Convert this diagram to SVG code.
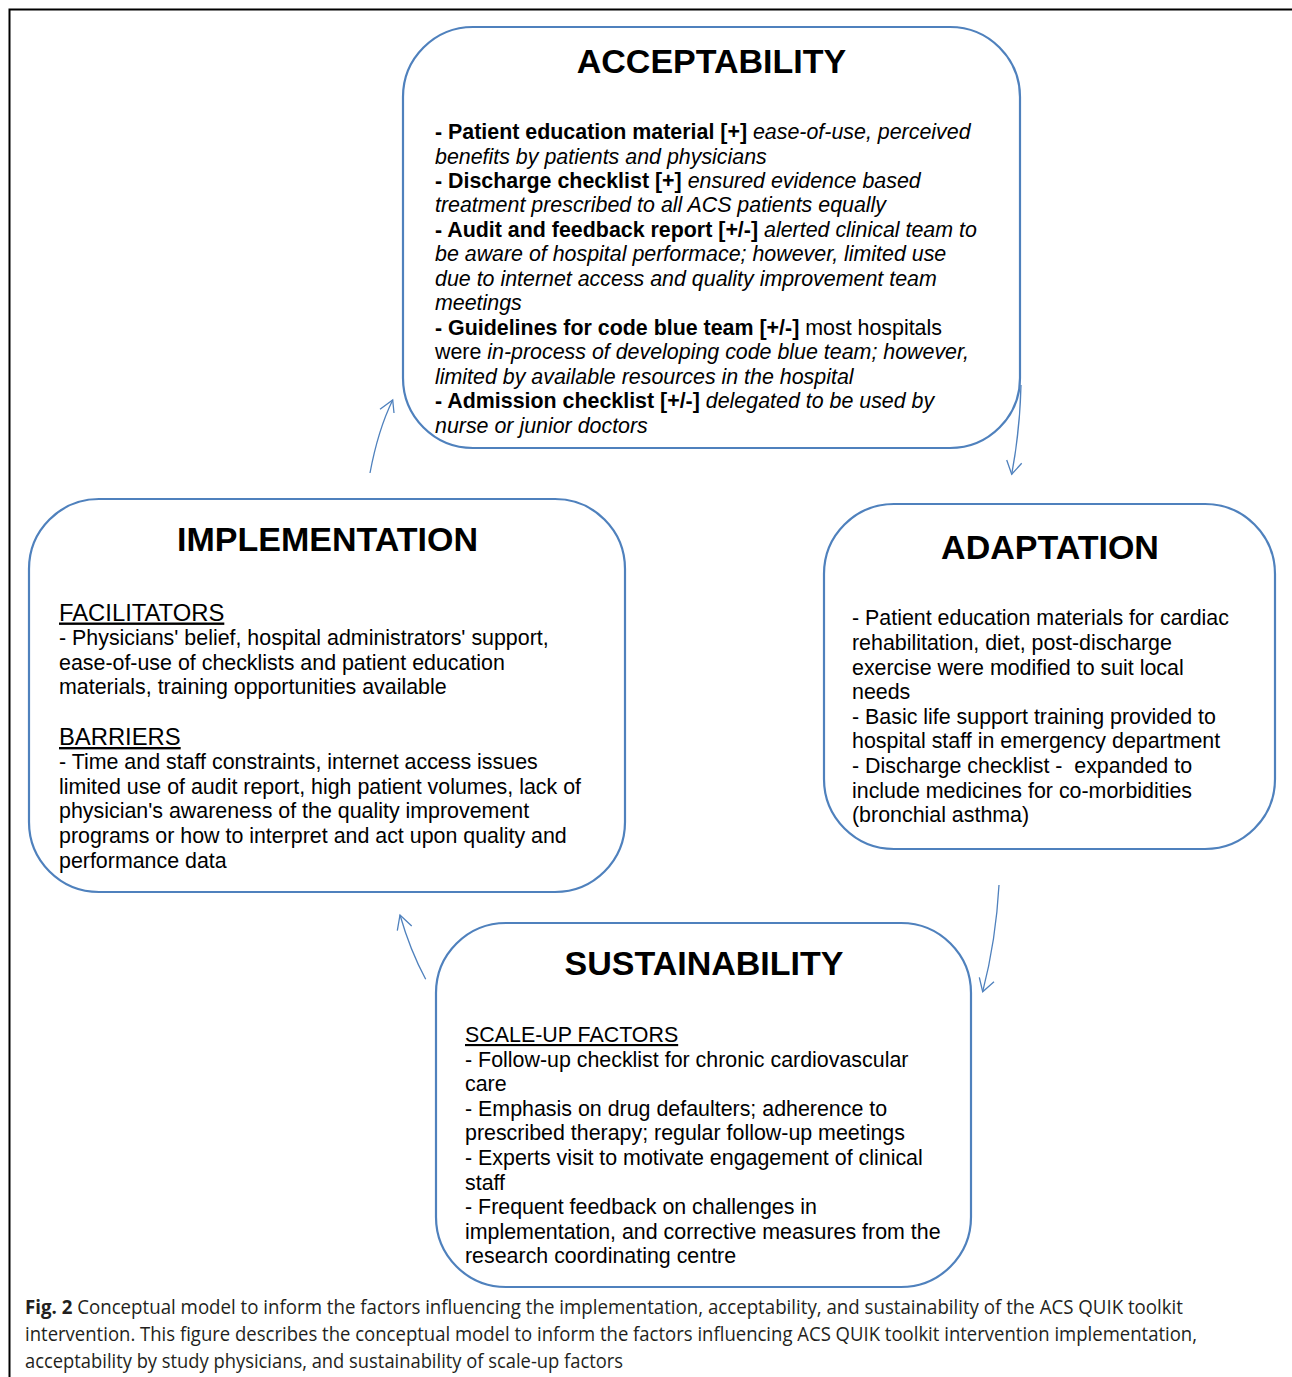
<svg xmlns="http://www.w3.org/2000/svg" width="1292" height="1377" viewBox="0 0 1292 1377">
<style>
.box{fill:#fff;stroke:#4f81bd;stroke-width:2.2}
.title{font-family:"Liberation Sans",Arial,sans-serif;font-weight:bold;font-size:34px;fill:#000;text-anchor:middle}
.body{font-family:"Liberation Sans",Arial,sans-serif;font-size:21.4px;fill:#000}
.hd{font-size:23.8px}
.b{font-weight:bold}
.i{font-style:italic}
.u{text-decoration:underline}
.conn{fill:none;stroke:#4f81bd;stroke-width:1.3}
.cap{font-family:"Open Sans","Noto Sans",sans-serif;font-size:20px;fill:#231f20}
</style>
<rect width="1292" height="1377" fill="#fff"/>
<path d="M9.5,1377 V9.5 H1292" fill="none" stroke="#000" stroke-width="2"/>

<g id="acceptability">
<rect class="box" x="403" y="27" width="617" height="421" rx="70" ry="70"/>
<text class="title" x="711.5" y="73">ACCEPTABILITY</text>
<text class="body" x="435" y="139"><tspan class="b">- Patient education material [+]</tspan> <tspan class="i">ease-of-use, perceived</tspan></text>
<text class="body i" x="435" y="163.5">benefits by patients and physicians</text>
<text class="body" x="435" y="188"><tspan class="b">- Discharge checklist [+]</tspan> <tspan class="i">ensured evidence based</tspan></text>
<text class="body i" x="435" y="212.4">treatment prescribed to all ACS patients equally</text>
<text class="body" x="435" y="236.8"><tspan class="b">- Audit and feedback report [+/-]</tspan> <tspan class="i">alerted clinical team to</tspan></text>
<text class="body i" x="435" y="261.3">be aware of hospital performace; however, limited use</text>
<text class="body i" x="435" y="285.8">due to internet access and quality improvement team</text>
<text class="body i" x="435" y="310.2">meetings</text>
<text class="body" x="435" y="334.7"><tspan class="b">- Guidelines for code blue team [+/-]</tspan> most hospitals</text>
<text class="body" x="435" y="359.1">were <tspan class="i">in-process of developing code blue team; however,</tspan></text>
<text class="body i" x="435" y="383.6">limited by available resources in the hospital</text>
<text class="body" x="435" y="408"><tspan class="b">- Admission checklist [+/-]</tspan> <tspan class="i">delegated to be used by</tspan></text>
<text class="body i" x="435" y="432.5">nurse or junior doctors</text>
</g>

<g id="implementation">
<rect class="box" x="29" y="499" width="596" height="393" rx="70" ry="70"/>
<text class="title" x="327.5" y="551">IMPLEMENTATION</text>
<text class="body hd u" x="59" y="620.5">FACILITATORS</text>
<text class="body" x="59" y="644.8">- Physicians' belief, hospital administrators' support,</text>
<text class="body" x="59" y="669.6">ease-of-use of checklists and patient education</text>
<text class="body" x="59" y="694.4">materials, training opportunities available</text>
<text class="body hd u" x="59" y="745">BARRIERS</text>
<text class="body" x="59" y="768.8">- Time and staff constraints, internet access issues</text>
<text class="body" x="59" y="793.6">limited use of audit report, high patient volumes, lack of</text>
<text class="body" x="59" y="818.4">physician's awareness of the quality improvement</text>
<text class="body" x="59" y="843.2">programs or how to interpret and act upon quality and</text>
<text class="body" x="59" y="868">performance data</text>
</g>

<g id="adaptation">
<rect class="box" x="824" y="504" width="451" height="345" rx="70" ry="70"/>
<text class="title" x="1050" y="559">ADAPTATION</text>
<text class="body" x="852" y="625.4">- Patient education materials for cardiac</text>
<text class="body" x="852" y="650">rehabilitation, diet, post-discharge</text>
<text class="body" x="852" y="674.6">exercise were modified to suit local</text>
<text class="body" x="852" y="699.2">needs</text>
<text class="body" x="852" y="723.8">- Basic life support training provided to</text>
<text class="body" x="852" y="748.4">hospital staff in emergency department</text>
<text class="body" x="852" y="773" xml:space="preserve">- Discharge checklist -  expanded to</text>
<text class="body" x="852" y="797.6">include medicines for co-morbidities</text>
<text class="body" x="852" y="822.2">(bronchial asthma)</text>
</g>

<g id="sustainability">
<rect class="box" x="436" y="923" width="535" height="364" rx="70" ry="70"/>
<text class="title" x="704" y="975">SUSTAINABILITY</text>
<text class="body u" x="465" y="1042">SCALE-UP FACTORS</text>
<text class="body" x="465" y="1066.6">- Follow-up checklist for chronic cardiovascular</text>
<text class="body" x="465" y="1091.2">care</text>
<text class="body" x="465" y="1115.8">- Emphasis on drug defaulters; adherence to</text>
<text class="body" x="465" y="1140.4">prescribed therapy; regular follow-up meetings</text>
<text class="body" x="465" y="1165">- Experts visit to motivate engagement of clinical</text>
<text class="body" x="465" y="1189.6">staff</text>
<text class="body" x="465" y="1214.2">- Frequent feedback on challenges in</text>
<text class="body" x="465" y="1238.8">implementation, and corrective measures from the</text>
<text class="body" x="465" y="1263.4">research coordinating centre</text>
</g>

<g id="connectors">
<path class="conn" d="M370,473 Q378,430 392.7,400"/>
<path class="conn" d="M380,409.3 L392.7,400 L394,413"/>
<path class="conn" d="M1021,385 Q1020,430 1011.7,474.3"/>
<path class="conn" d="M1006.7,460 L1011.7,474.3 L1021.7,463.3"/>
<path class="conn" d="M999,885 Q996,940 982.7,991.7"/>
<path class="conn" d="M979.3,977.3 L982.7,991.7 L994,981.7"/>
<path class="conn" d="M425.7,979.3 Q410,950 400,915"/>
<path class="conn" d="M397.3,930.7 L400,915 L411.7,926"/>
</g>

<g id="caption">
<text class="cap" x="25" y="1314" textLength="1158" lengthAdjust="spacingAndGlyphs"><tspan font-weight="bold">Fig. 2</tspan> Conceptual model to inform the factors influencing the implementation, acceptability, and sustainability of the ACS QUIK toolkit</text>
<text class="cap" x="25" y="1341" textLength="1172" lengthAdjust="spacingAndGlyphs">intervention. This figure describes the conceptual model to inform the factors influencing ACS QUIK toolkit intervention implementation,</text>
<text class="cap" x="25" y="1368" textLength="598" lengthAdjust="spacingAndGlyphs">acceptability by study physicians, and sustainability of scale-up factors</text>
</g>
</svg>
